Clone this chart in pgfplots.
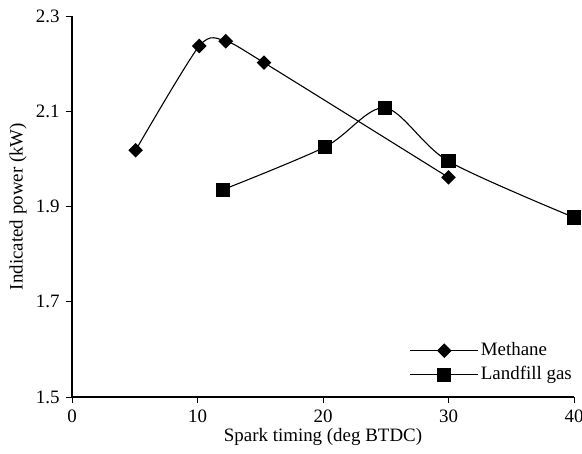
\documentclass[border=0pt]{standalone}
\usepackage{pgfplots}
\pgfplotsset{compat=1.18}
\usepackage{fontspec}
\setmainfont{Liberation Serif}
\begin{document}
\fontsize{19}{22}\selectfont
\begin{tikzpicture}
\path[use as bounding box] (-72bp,-57bp) rectangle (510bp,397bp);
\begin{axis}[
  scale only axis,
  width=502bp, height=381bp,
  xmin=0, xmax=40, ymin=1.5, ymax=2.3,
  axis lines=left,
  axis line style={-, line width=1.2pt},
  tick align=outside,
  major tick length=6bp,
  tick style={line width=1pt, black},
  xtick={0,10,20,30,40},
  ytick={1.5,1.7,1.9,2.1,2.3},
  yticklabel style={/pgf/number format/.cd, fixed, fixed zerofill, precision=1},
  tick label style={font=\fontsize{19}{22}\selectfont},
  label style={font=\fontsize{19}{22}\selectfont},
  /pgf/number format/assume math mode=true,
  xlabel={Spark timing (deg BTDC)},
  ylabel={Indicated power (kW)},
  xlabel style={at={(axis description cs:0.5,0)}, yshift=-40bp, anchor=center},
  ylabel style={at={(axis description cs:0,0.5)}, yshift=54bp, anchor=center},
  legend cell align=left,
  legend style={at={(1,0)}, anchor=south east, xshift=0bp, yshift=12bp, draw=none, fill=none, inner sep=0pt, row sep=4bp, font=\fontsize{19}{22}\selectfont},
  legend image code/.code={\draw[mark repeat=2, mark phase=2] plot coordinates {(0bp,0bp) (34bp,0bp) (68bp,0bp)};},
  clip=false,
]
\addplot[black, line width=1.1pt, smooth, tension=0.45, mark=square*, mark size=4.6bp, mark options={rotate=45, solid}]
  coordinates {(5.07,2.018) (10.14,2.237) (12.25,2.247) (15.3,2.202) (30,1.961)};
\addlegendentry{Methane}
\addplot[black, line width=1.1pt, smooth, tension=0.5, mark=square*, mark size=6.5bp, mark options={solid}]
  coordinates {(12,1.935) (20.16,2.025) (24.94,2.107) (30,1.995) (40,1.877)};
\addlegendentry{Landfill gas}
\end{axis}
\end{tikzpicture}
\end{document}
